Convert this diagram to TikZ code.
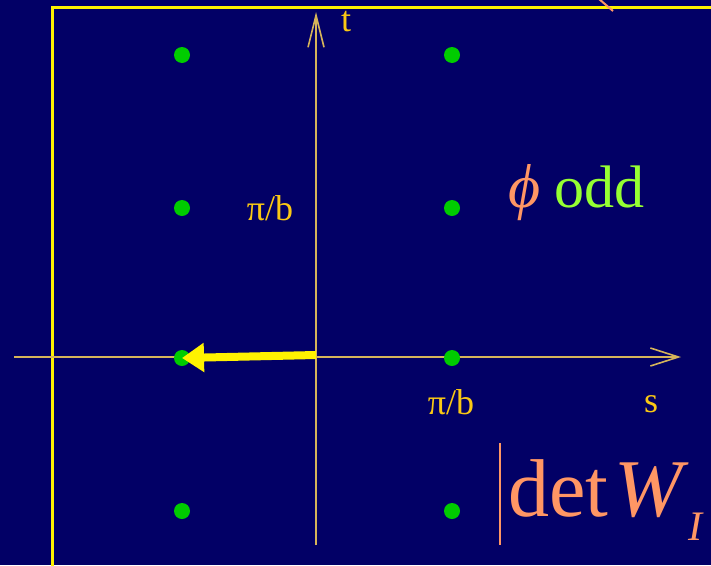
\documentclass[tikz,border=0pt]{standalone}
\usepackage{fontspec}
\usepackage{graphicx}
\setmainfont{Liberation Serif}
\usetikzlibrary{arrows.meta}
\definecolor{bg}{RGB}{2,0,102}
\definecolor{axiscol}{RGB}{214,180,90}
\definecolor{labcol}{RGB}{250,200,20}
\definecolor{dotcol}{RGB}{0,204,0}
\definecolor{salmon}{RGB}{255,150,100}
\definecolor{lgreen}{RGB}{150,255,50}
\tikzset{
  axis/.style={draw=axiscol, line width=1.6pt},
  dot/.style={circle, fill=dotcol, inner sep=0pt, minimum size=16pt},
  lab/.style={text=labcol, font=\fontsize{36}{40}\selectfont, inner sep=0pt},
  frame/.style={draw=yellow, line width=3pt},
  bigarrow/.style={draw=yellow, line width=8pt, -{Triangle[length=22pt,width=28pt]}},
}
\begin{document}
\begin{tikzpicture}[x=1pt,y=-1pt]
\useasboundingbox (0,0) rectangle (711,565);
\clip (0,0) rectangle (711,565);
\fill[bg] (0,0) rectangle (711,565);
% frame
\coordinate (fr1) at (720,7);
\coordinate (fr2) at (52,7);
\coordinate (fr3) at (52,580);
\draw[frame] (fr1) -- (fr2) -- (fr3);
% partial orange stroke at top
\coordinate (os1) at (599,-1);
\coordinate (os2) at (613,11);
\draw[salmon, line width=2pt] (os1) -- (os2);
% axes
\coordinate (tbot) at (316,545);
\coordinate (ttop) at (316,12);
\coordinate (sleft) at (14,357);
\coordinate (sright) at (681,357);
\draw[axis, -{Straight Barb[length=32pt,width=16pt,line width=1.6pt]}] (tbot) -- (ttop);
\draw[axis, -{Straight Barb[length=28pt,width=18pt,line width=1.6pt]}] (sleft) -- (sright);
% dots
\foreach \c/\x in {a/182,b/452}{
  \foreach \r/\y in {1/55,2/208,3/358,4/511}{
    \node[dot] (d\c\r) at (\x,\y) {};
  }
}
% labels
\node[lab] (tl) at (346,22) {t};
\node[lab] (pb1) at (270,208) {π/b};
\node[lab] (pb2) at (451,402) {π/b};
\node[lab] (sl) at (651,404) {s};
% arrow
\coordinate (o) at (316,355);
\draw[bigarrow] (o) -- (da3.center);
% phi odd
\node[anchor=base west, inner sep=0pt, text=salmon, font=\fontsize{62}{70}\selectfont\itshape] (phi) at (508,207) {ϕ};
\node[anchor=base west, inner sep=0pt, text=lgreen, font=\fontsize{60}{70}\selectfont] (odd) at (554,207) {odd};
% det W_I
\coordinate (bar1) at (500,443);
\coordinate (bar2) at (500,545);
\draw[salmon, line width=2.2pt] (bar1) -- (bar2);
\node[anchor=base west, inner sep=0pt, text=salmon, font=\fontsize{82}{90}\selectfont] (det) at (508,516) {det\hspace{6pt}\textit{W}};
\node[anchor=base west, inner sep=0pt, text=salmon, font=\fontsize{42}{46}\selectfont\itshape] (sub) at (688,540) {I};
\end{tikzpicture}
\end{document}
